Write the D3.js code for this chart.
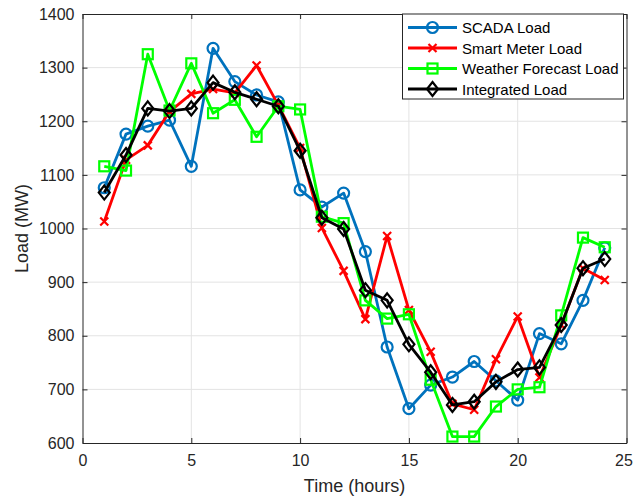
<!DOCTYPE html>
<html>
<head>
<meta charset="utf-8">
<script src="https://cdn.jsdelivr.net/npm/d3@7"></script>
<style>
    body { margin: 0; background: #fff; }
    svg { font-family: "Liberation Sans", Arial, sans-serif; }
</style>
</head>
<body>
<div id="canvas"></div>
<script>
"use strict"

// hours 1..24
let hours = d3.range(1, 25);

let scadaLoad = [1076, 1176, 1191, 1202, 1116, 1336, 1274, 1249, 1236, 1072,
    1040, 1066, 957, 779, 664, 708, 723, 752, 716, 680,
    804, 785, 866, 964];
let smartMeterLoad = [1013, 1128, 1155, 1218, 1251, 1260, 1253, 1304, 1230, 1150,
    1001, 921, 831, 986, 848, 770, 673, 662, 756, 836,
    722, 820, 926, 904];
let weatherLoad = [1116, 1108, 1325, 1220, 1308, 1215, 1240, 1171, 1228, 1222,
    1022, 1010, 866, 832, 840, 718, 612, 612, 668, 700,
    704, 838, 983, 965];
let integratedLoad = [1067, 1137, 1224, 1219, 1224, 1272, 1254, 1241, 1228, 1145,
    1020, 999, 885, 866, 784, 732, 671, 677, 714, 737,
    741, 820, 926, 943];

let seriesNames = ["SCADA Load", "Smart Meter Load", "Weather Forecast Load", "Integrated Load"];
let seriesColors = ["#0072BD", "#FF0000", "#00FF00", "#000000"];
let seriesMarkers = ["circle", "cross", "square", "diamond"];
let seriesValues = [scadaLoad, smartMeterLoad, weatherLoad, integratedLoad];

let xTicks = [0, 5, 10, 15, 20, 25];
let yTicks = [600, 700, 800, 900, 1000, 1100, 1200, 1300, 1400];

let width = 634, height = 497;
let plotLeft = 82.5, plotRight = 626.5, plotTop = 14, plotBottom = 443;
let axisColor = "#262626";

let drawing = d3.select("#canvas")
    .append("svg")
    .attr("width", width)
    .attr("height", height);

let x = d3.scaleLinear().domain([0, 25]).range([plotLeft, plotRight]);
let y = d3.scaleLinear().domain([600, 1400]).range([plotBottom, plotTop]);

// grid
drawing.append("g")
    .selectAll("line")
    .data(xTicks.slice(1, -1))
    .join("line")
    .attr("x1", d => x(d)).attr("x2", d => x(d))
    .attr("y1", plotTop).attr("y2", plotBottom)
    .attr("stroke", "#e3e3e3").attr("stroke-width", 1);

drawing.append("g")
    .selectAll("line")
    .data(yTicks.slice(1, -1))
    .join("line")
    .attr("x1", plotLeft).attr("x2", plotRight)
    .attr("y1", d => y(d)).attr("y2", d => y(d))
    .attr("stroke", "#e3e3e3").attr("stroke-width", 1);

// axes (ticks inside, MATLAB-style box)
let xAxis = drawing.append("g")
    .attr("transform", `translate(0,${plotBottom})`)
    .call(d3.axisBottom(x).tickValues(xTicks).tickFormat(d3.format("d"))
        .tickSizeInner(-5).tickSizeOuter(0).tickPadding(12));
let xAxisTop = drawing.append("g")
    .attr("transform", `translate(0,${plotTop})`)
    .call(d3.axisTop(x).tickValues(xTicks).tickSizeInner(-5).tickSizeOuter(0).tickFormat(""));
let yAxis = drawing.append("g")
    .attr("transform", `translate(${plotLeft},0)`)
    .call(d3.axisLeft(y).tickValues(yTicks).tickFormat(d3.format("d"))
        .tickSizeInner(-5).tickSizeOuter(0).tickPadding(8));
let yAxisRight = drawing.append("g")
    .attr("transform", `translate(${plotRight},0)`)
    .call(d3.axisRight(y).tickValues(yTicks).tickSizeInner(-5).tickSizeOuter(0).tickFormat(""));

drawing.selectAll(".domain, .tick line").attr("stroke", axisColor).attr("stroke-width", 1);
drawing.selectAll(".tick text")
    .attr("fill", axisColor)
    .style("font-size", "16px")
    .style("font-family", "'Liberation Sans', Arial, sans-serif");

// keep the last x label inside the window
xAxis.selectAll(".tick text").filter(d => d == 25).attr("dx", -3);

// axis labels
drawing.append("text")
    .attr("x", (plotLeft + plotRight) / 2)
    .attr("y", 492)
    .attr("text-anchor", "middle")
    .attr("fill", axisColor)
    .style("font-size", "18px")
    .text("Time (hours)");

drawing.append("text")
    .attr("transform", `translate(28,${(plotTop + plotBottom) / 2}) rotate(-90)`)
    .attr("text-anchor", "middle")
    .attr("fill", axisColor)
    .style("font-size", "18px")
    .text("Load (MW)");

// marker shapes
function drawMarker(g, type, color) {
    if (type == "circle") {
        g.append("circle").attr("r", 5.5)
            .attr("fill", "none").attr("stroke", color).attr("stroke-width", 2.2);
    } else if (type == "cross") {
        g.append("path").attr("d", "M-4,-4L4,4M-4,4L4,-4")
            .attr("fill", "none").attr("stroke", color).attr("stroke-width", 2.2);
    } else if (type == "square") {
        g.append("rect").attr("x", -5).attr("y", -5).attr("width", 10).attr("height", 10)
            .attr("fill", "none").attr("stroke", color).attr("stroke-width", 2.2);
    } else if (type == "diamond") {
        g.append("path").attr("d", "M0,-7L5.5,0L0,7L-5.5,0Z")
            .attr("fill", "none").attr("stroke", color).attr("stroke-width", 2.2);
    }
}

let line = d3.line()
    .x((d, i) => x(hours[i]))
    .y(d => y(d));

seriesValues.forEach((values, s) => {
    let g = drawing.append("g");
    g.append("path")
        .attr("d", line(values))
        .attr("fill", "none")
        .attr("stroke", seriesColors[s])
        .attr("stroke-width", 2.8)
        .attr("stroke-linejoin", "round");
    values.forEach((v, i) => {
        let m = g.append("g").attr("transform", `translate(${x(hours[i])},${y(v)})`);
        drawMarker(m, seriesMarkers[s], seriesColors[s]);
    });
});

// legend
let legend = drawing.append("g");
legend.append("rect")
    .attr("x", 402.5).attr("y", plotTop)
    .attr("width", 221).attr("height", 85)
    .attr("fill", "#fff")
    .attr("stroke", axisColor).attr("stroke-width", 1);

seriesNames.forEach((name, s) => {
    let ly = 27.5 + s * 20.5;
    legend.append("line")
        .attr("x1", 408).attr("x2", 457)
        .attr("y1", ly).attr("y2", ly)
        .attr("stroke", seriesColors[s]).attr("stroke-width", 2.8);
    let m = legend.append("g").attr("transform", `translate(432.5,${ly})`);
    drawMarker(m, seriesMarkers[s], seriesColors[s]);
    legend.append("text")
        .attr("x", 462).attr("y", ly + 5.5)
        .attr("fill", "#000")
        .style("font-size", "15px")
        .text(name);
});
</script>
</body>
</html>
